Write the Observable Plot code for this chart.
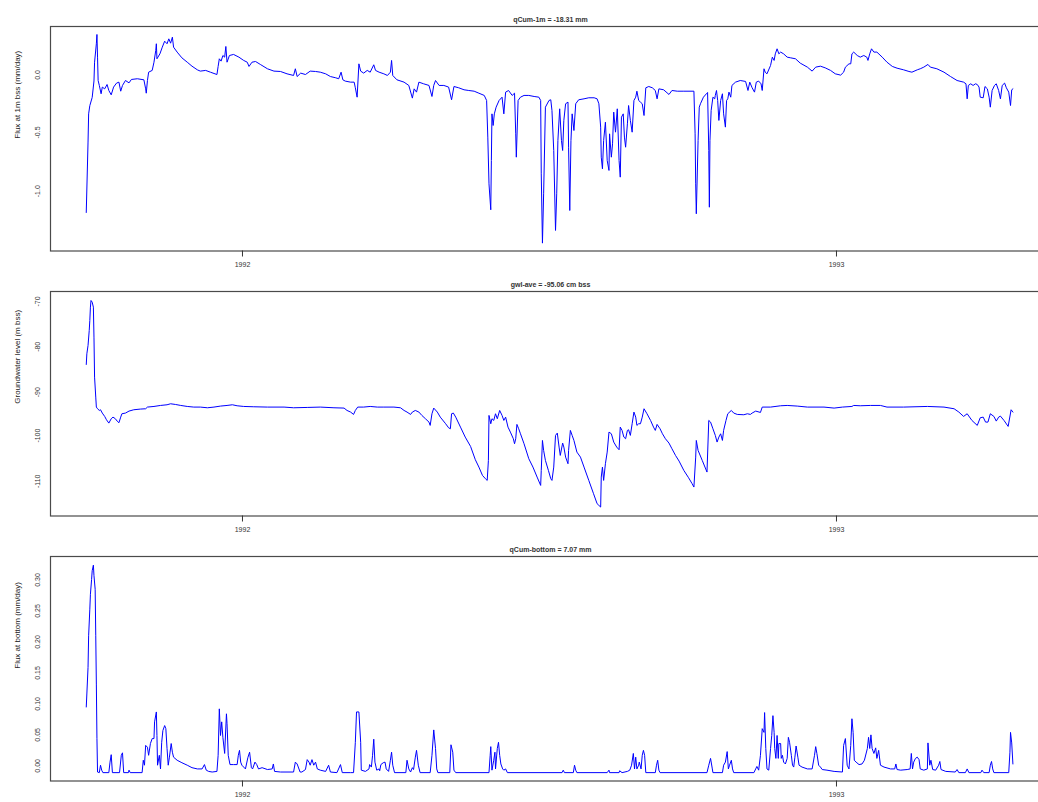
<!DOCTYPE html>
<html><head><meta charset="utf-8">
<script src="https://cdn.jsdelivr.net/npm/d3@7"></script>
<script src="https://cdn.jsdelivr.net/npm/@observablehq/plot@0.6"></script>
<style>
html,body{margin:0;padding:0;background:#fff;overflow:hidden;}
#chart{position:relative;width:1038px;height:802px;overflow:hidden;background:#fff;}
#chart svg{position:absolute;left:0;overflow:visible;}
</style></head><body><div id="chart"></div>
<script>
// ---- shared x axis (decimal years, as in R ts plot) ----
const yearTicks = [1992, 1993];
const xDomain = [1991.6768, 1993.3603];

// ---- panel 1: flux at 1 m ----
const fluxTopTitle = "qCum-1m = -18.31 mm";
const fluxTopLabel = "Flux at 1m bss (mm/day)";
const fluxTopTicks = [-1.0, -0.5, 0.0];
const fluxTopTime = [
1991.737,1991.738,1991.740,1991.741,1991.743,1991.747,1991.750,1991.751,1991.754,1991.755,
1991.756,1991.757,1991.759,1991.762,1991.764,1991.768,1991.772,1991.775,1991.779,1991.783,
1991.788,1991.792,1991.795,1991.798,1991.803,1991.809,1991.813,1991.823,1991.834,1991.837,
1991.838,1991.840,1991.842,1991.848,1991.851,1991.854,1991.855,1991.856,1991.861,1991.865,
1991.869,1991.873,1991.876,1991.879,1991.882,1991.884,1991.890,1991.898,1991.907,1991.915,
1991.924,1991.929,1991.938,1991.946,1991.957,1991.959,1991.961,1991.964,1991.967,1991.970,
1991.972,1991.974,1991.978,1991.985,1991.994,1992.002,1992.008,1992.011,1992.016,1992.022,
1992.030,1992.042,1992.053,1992.064,1992.075,1992.086,1992.089,1992.092,1992.098,1992.106,
1992.114,1992.123,1992.131,1992.140,1992.148,1992.157,1992.162,1992.166,1992.169,1992.173,
1992.182,1992.188,1992.190,1992.193,1992.196,1992.199,1992.204,1992.210,1992.215,1992.221,
1992.224,1992.230,1992.238,1992.244,1992.249,1992.251,1992.253,1992.260,1992.272,1992.280,
1992.286,1992.289,1992.293,1992.297,1992.305,1992.314,1992.319,1992.322,1992.325,1992.331,
1992.339,1992.347,1992.352,1992.356,1992.364,1992.373,1992.381,1992.390,1992.398,1992.407,
1992.411,1992.413,1992.415,1992.418,1992.419,1992.420,1992.422,1992.424,1992.427,1992.432,
1992.437,1992.440,1992.443,1992.448,1992.454,1992.458,1992.460,1992.461,1992.464,1992.468,
1992.474,1992.482,1992.491,1992.499,1992.502,1992.503,1992.505,1992.507,1992.510,1992.516,
1992.519,1992.521,1992.524,1992.527,1992.529,1992.531,1992.534,1992.537,1992.539,1992.541,
1992.544,1992.548,1992.549,1992.551,1992.553,1992.555,1992.558,1992.561,1992.566,1992.575,
1992.583,1992.592,1992.597,1992.600,1992.603,1992.604,1992.606,1992.608,1992.611,1992.614,
1992.617,1992.618,1992.621,1992.623,1992.625,1992.628,1992.631,1992.634,1992.636,1992.638,
1992.641,1992.643,1992.645,1992.648,1992.650,1992.653,1992.656,1992.659,1992.662,1992.664,
1992.667,1992.670,1992.673,1992.676,1992.679,1992.684,1992.690,1992.695,1992.698,1992.701,
1992.709,1992.718,1992.723,1992.732,1992.743,1992.760,1992.762,1992.763,1992.764,1992.767,
1992.769,1992.771,1992.776,1992.781,1992.783,1992.785,1992.786,1992.787,1992.789,1992.792,
1992.795,1992.796,1992.798,1992.800,1992.802,1992.805,1992.808,1992.810,1992.813,1992.815,
1992.817,1992.819,1992.822,1992.824,1992.830,1992.838,1992.847,1992.851,1992.854,1992.858,
1992.862,1992.865,1992.869,1992.873,1992.875,1992.878,1992.880,1992.883,1992.889,1992.892,
1992.895,1992.897,1992.900,1992.903,1992.906,1992.911,1992.917,1992.923,1992.931,1992.939,
1992.951,1992.959,1992.965,1992.973,1992.981,1992.990,1992.998,1993.007,1993.012,1993.015,
1993.021,1993.024,1993.026,1993.029,1993.035,1993.040,1993.046,1993.051,1993.053,1993.056,
1993.059,1993.063,1993.068,1993.077,1993.085,1993.094,1993.102,1993.113,1993.122,1993.127,
1993.136,1993.141,1993.147,1993.154,1993.158,1993.169,1993.181,1993.192,1993.203,1993.214,
1993.218,1993.220,1993.222,1993.226,1993.230,1993.234,1993.237,1993.240,1993.242,1993.247,
1993.250,1993.254,1993.257,1993.259,1993.262,1993.266,1993.269,1993.273,1993.276,1993.279,
1993.283,1993.286,1993.290,1993.293,1993.295,1993.297];
const fluxTopValue = [
-1.13,-0.93,-0.53,-0.29,-0.22,-0.15,-0.01,0.15,0.307,0.386,
0.193,-0.006,-0.048,-0.119,-0.062,-0.077,-0.040,-0.091,-0.128,-0.062,
-0.028,-0.020,-0.097,-0.048,-0.006,-0.026,0.003,0.009,0.0,-0.077,
-0.114,-0.006,0.065,0.080,0.150,0.250,0.307,0.179,0.221,0.278,
0.329,0.307,0.349,0.312,0.363,0.278,0.236,0.187,0.150,0.116,
0.085,0.074,0.080,0.065,0.045,0.114,0.179,0.159,0.207,0.193,
0.284,0.150,0.207,0.216,0.193,0.165,0.150,0.114,0.150,0.156,
0.131,0.094,0.074,0.071,0.051,0.037,0.094,0.028,0.057,0.045,
0.074,0.071,0.065,0.051,0.028,0.017,0.009,0.065,0.0,-0.011,
-0.020,-0.020,-0.068,-0.148,0.136,0.074,0.057,0.080,0.065,0.128,
0.080,0.065,0.051,0.037,0.065,0.165,0.037,0.0,-0.020,-0.048,
-0.156,-0.077,-0.105,-0.020,-0.034,-0.048,-0.142,-0.048,-0.006,-0.048,
-0.048,-0.062,-0.170,-0.057,-0.068,-0.085,-0.091,-0.097,-0.114,-0.133,
-0.176,-0.488,-0.886,-1.107,-0.687,-0.290,-0.389,-0.290,-0.233,-0.176,
-0.148,-0.290,-0.105,-0.091,-0.133,-0.114,-0.460,-0.659,-0.176,-0.148,
-0.133,-0.133,-0.142,-0.148,-0.176,-0.801,-1.391,-0.971,-0.233,-0.176,
-0.170,-0.261,-0.602,-1.283,-0.971,-0.517,-0.247,-0.517,-0.602,-0.346,
-0.204,-0.190,-0.574,-1.113,-0.517,-0.290,-0.432,-0.204,-0.170,-0.162,
-0.153,-0.153,-0.162,-0.204,-0.403,-0.659,-0.758,-0.517,-0.361,-0.687,
-0.772,-0.460,-0.659,-0.545,-0.275,-0.446,-0.247,-0.687,-0.829,-0.318,
-0.290,-0.488,-0.574,-0.375,-0.219,-0.346,-0.446,-0.176,-0.148,-0.097,
-0.176,-0.190,-0.204,-0.304,-0.068,-0.057,-0.068,-0.091,-0.162,-0.077,
-0.085,-0.125,-0.091,-0.097,-0.097,-0.097,-0.460,-0.886,-1.141,-0.517,
-0.233,-0.204,-0.148,-0.119,-0.108,-0.602,-1.085,-0.517,-0.261,-0.148,
-0.162,-0.133,-0.091,-0.176,-0.346,-0.176,-0.119,-0.290,-0.403,-0.176,
-0.162,-0.105,-0.148,-0.048,-0.020,-0.006,-0.014,-0.091,-0.020,-0.068,
-0.105,-0.020,-0.011,-0.034,-0.091,0.094,0.065,0.051,0.122,0.193,
0.165,0.221,0.264,0.221,0.236,0.221,0.193,0.187,0.179,0.142,
0.108,0.074,0.108,0.116,0.102,0.080,0.051,0.040,0.065,0.108,
0.136,0.136,0.221,0.236,0.207,0.193,0.207,0.193,0.165,0.221,
0.264,0.236,0.236,0.193,0.150,0.114,0.099,0.085,0.071,0.065,
0.085,0.094,0.108,0.131,0.108,0.094,0.065,0.028,-0.006,-0.020,
-0.034,-0.162,-0.048,-0.034,-0.048,-0.034,-0.040,-0.062,-0.148,-0.153,
-0.057,-0.077,-0.148,-0.233,-0.091,-0.048,-0.034,-0.091,-0.162,-0.048,
-0.028,-0.068,-0.105,-0.219,-0.085,-0.077];

// ---- panel 2: groundwater level ----
const gwlTitle = "gwl-ave = -95.06 cm bss";
const gwlLabel = "Groundwater level (m bss)";
const gwlTicks = [-110, -100, -90, -80, -70];
const gwlTime = [
1991.737,1991.738,1991.740,1991.742,1991.743,1991.744,1991.745,1991.747,1991.749,1991.750,
1991.751,1991.753,1991.754,1991.756,1991.759,1991.761,1991.764,1991.768,1991.771,1991.775,
1991.779,1991.782,1991.786,1991.789,1991.792,1991.795,1991.797,1991.803,1991.809,1991.817,
1991.828,1991.837,1991.840,1991.851,1991.862,1991.873,1991.879,1991.887,1991.896,1991.907,
1991.918,1991.929,1991.941,1991.952,1991.963,1991.974,1991.983,1991.991,1992.002,1992.019,
1992.042,1992.070,1992.086,1992.109,1992.131,1992.154,1992.171,1992.176,1992.182,1992.187,
1992.190,1992.194,1992.204,1992.215,1992.227,1992.238,1992.255,1992.266,1992.272,1992.277,
1992.283,1992.286,1992.291,1992.297,1992.302,1992.308,1992.314,1992.316,1992.319,1992.322,
1992.328,1992.333,1992.342,1992.347,1992.350,1992.352,1992.355,1992.359,1992.367,1992.375,
1992.384,1992.392,1992.398,1992.404,1992.409,1992.412,1992.414,1992.415,1992.418,1992.420,
1992.423,1992.426,1992.429,1992.433,1992.437,1992.440,1992.443,1992.447,1992.451,1992.456,
1992.458,1992.460,1992.462,1992.465,1992.468,1992.474,1992.482,1992.489,1992.496,1992.502,
1992.503,1992.505,1992.507,1992.510,1992.515,1992.519,1992.521,1992.524,1992.527,1992.530,
1992.533,1992.535,1992.539,1992.541,1992.544,1992.548,1992.549,1992.552,1992.555,1992.558,
1992.563,1992.569,1992.575,1992.583,1992.591,1992.597,1992.600,1992.603,1992.604,1992.606,
1992.608,1992.611,1992.614,1992.617,1992.621,1992.625,1992.630,1992.634,1992.636,1992.639,
1992.642,1992.645,1992.648,1992.650,1992.653,1992.656,1992.659,1992.662,1992.664,1992.667,
1992.670,1992.673,1992.676,1992.681,1992.687,1992.692,1992.695,1992.698,1992.703,1992.707,
1992.712,1992.718,1992.723,1992.729,1992.735,1992.743,1992.751,1992.757,1992.760,1992.763,
1992.764,1992.767,1992.774,1992.782,1992.785,1992.788,1992.792,1992.796,1992.799,1992.802,
1992.805,1992.808,1992.810,1992.814,1992.817,1992.823,1992.827,1992.833,1992.844,1992.850,
1992.855,1992.858,1992.864,1992.872,1992.875,1992.889,1992.906,1992.917,1992.934,1992.951,
1992.979,1992.996,1993.010,1993.026,1993.029,1993.040,1993.057,1993.074,1993.085,1993.113,
1993.153,1993.181,1993.198,1993.206,1993.214,1993.220,1993.228,1993.237,1993.242,1993.247,
1993.251,1993.255,1993.259,1993.265,1993.269,1993.273,1993.276,1993.282,1993.289,1993.294,
1993.297];
const gwlValue = [
-82.78,-80.43,-78.59,-75.29,-73.08,-70.15,-68.68,-69.05,-70.15,-76.75,
-85.57,-89.97,-92.17,-92.54,-92.91,-92.76,-93.49,-94.23,-94.96,-95.70,
-94.74,-94.38,-94.74,-95.26,-95.62,-94.38,-93.64,-93.49,-93.05,-92.76,
-92.61,-92.54,-92.17,-92.03,-91.81,-91.66,-91.44,-91.59,-91.81,-92.03,
-92.17,-92.17,-92.32,-92.17,-91.95,-91.81,-91.66,-91.88,-92.03,-92.10,
-92.17,-92.17,-92.32,-92.25,-92.17,-92.32,-92.39,-92.91,-93.27,-93.79,
-92.91,-92.17,-92.17,-92.03,-92.17,-92.17,-92.17,-92.32,-92.91,-93.27,
-93.79,-93.27,-92.91,-93.27,-94.01,-94.74,-95.48,-96.21,-93.64,-92.39,
-93.27,-94.38,-95.84,-96.73,-96.95,-93.64,-93.49,-94.38,-96.58,-98.78,
-100.84,-103.77,-105.39,-107.22,-107.96,-108.33,-103.92,-94.01,-95.84,-94.74,
-95.11,-93.64,-94.74,-92.91,-94.01,-95.11,-94.38,-96.58,-97.68,-99.15,
-100.25,-99.15,-95.99,-96.95,-98.05,-100.25,-103.55,-105.39,-107.59,-109.43,
-106.12,-99.52,-101.72,-103.92,-106.12,-107.96,-108.33,-105.39,-98.41,-97.90,
-100.98,-102.82,-100.10,-100.98,-103.19,-104.65,-101.72,-97.31,-98.41,-99.52,
-102.09,-103.19,-105.39,-108.33,-111.26,-113.46,-113.83,-114.20,-107.59,-105.39,
-108.33,-104.65,-102.09,-97.68,-98.05,-99.88,-100.98,-101.57,-96.58,-97.31,
-98.78,-99.15,-97.31,-97.17,-98.41,-95.84,-93.27,-94.38,-96.21,-95.84,
-95.84,-94.38,-92.54,-93.64,-95.11,-96.58,-97.31,-95.99,-96.95,-98.05,
-99.15,-100.10,-101.35,-102.82,-104.07,-106.12,-107.74,-109.06,-109.79,-103.19,
-99.52,-101.72,-103.92,-106.49,-95.11,-95.48,-96.95,-98.41,-99.88,-98.78,
-98.05,-99.52,-97.31,-95.11,-93.64,-92.91,-93.49,-93.79,-93.86,-93.64,
-93.79,-93.49,-93.05,-93.35,-92.17,-92.17,-91.88,-91.81,-91.95,-92.17,
-92.17,-92.39,-92.17,-92.03,-91.81,-91.88,-91.81,-91.81,-92.17,-92.17,
-92.03,-92.17,-92.54,-93.27,-94.23,-93.64,-95.11,-96.21,-94.52,-94.38,
-95.48,-95.48,-93.64,-94.23,-95.26,-94.38,-94.16,-95.11,-96.43,-92.76,
-93.27];

// ---- panel 3: flux at bottom ----
const fluxBottomTitle = "qCum-bottom = 7.07 mm";
const fluxBottomLabel = "Flux at bottom (mm/day)";
const fluxBottomTicks = [0.00, 0.05, 0.10, 0.15, 0.20, 0.25, 0.30];
const fluxBottomTime = [
1991.737,1991.738,1991.740,1991.741,1991.743,1991.744,1991.746,1991.747,1991.749,1991.750,
1991.752,1991.753,1991.754,1991.755,1991.756,1991.759,1991.761,1991.763,1991.765,1991.775,
1991.777,1991.779,1991.781,1991.793,1991.796,1991.798,1991.800,1991.808,1991.809,1991.811,
1991.831,1991.833,1991.835,1991.837,1991.840,1991.842,1991.845,1991.848,1991.851,1991.852,
1991.855,1991.856,1991.857,1991.860,1991.862,1991.864,1991.866,1991.869,1991.871,1991.873,
1991.875,1991.877,1991.880,1991.882,1991.884,1991.890,1991.898,1991.907,1991.915,1991.924,
1991.932,1991.936,1991.939,1991.943,1991.949,1991.957,1991.959,1991.961,1991.963,1991.965,
1991.967,1991.970,1991.973,1991.974,1991.976,1991.979,1991.985,1991.991,1991.993,1991.995,
1991.997,1991.999,1992.002,1992.005,1992.009,1992.012,1992.015,1992.017,1992.021,1992.024,
1992.027,1992.033,1992.042,1992.050,1992.052,1992.054,1992.064,1992.086,1992.089,1992.092,
1992.097,1992.100,1992.106,1992.109,1992.112,1992.114,1992.117,1992.120,1992.123,1992.126,
1992.131,1992.140,1992.145,1992.148,1992.159,1992.165,1992.168,1992.182,1992.187,1992.190,
1992.192,1992.196,1992.199,1992.200,1992.207,1992.213,1992.214,1992.217,1992.219,1992.221,
1992.223,1992.226,1992.230,1992.231,1992.233,1992.237,1992.240,1992.242,1992.246,1992.249,
1992.251,1992.253,1992.256,1992.275,1992.277,1992.280,1992.283,1992.286,1992.288,1992.291,
1992.293,1992.296,1992.299,1992.316,1992.319,1992.322,1992.325,1992.327,1992.329,1992.349,
1992.351,1992.354,1992.356,1992.359,1992.415,1992.417,1992.418,1992.420,1992.423,1992.425,
1992.426,1992.429,1992.431,1992.433,1992.435,1992.438,1992.440,1992.443,1992.446,1992.538,
1992.540,1992.542,1992.557,1992.559,1992.561,1992.563,1992.614,1992.617,1992.618,1992.634,
1992.635,1992.639,1992.648,1992.652,1992.655,1992.658,1992.660,1992.662,1992.664,1992.667,
1992.668,1992.671,1992.673,1992.675,1992.677,1992.679,1992.695,1992.697,1992.699,1992.701,
1992.703,1992.782,1992.785,1992.788,1992.791,1992.792,1992.808,1992.810,1992.813,1992.816,
1992.818,1992.820,1992.823,1992.825,1992.827,1992.861,1992.864,1992.866,1992.869,1992.872,
1992.875,1992.878,1992.879,1992.881,1992.883,1992.886,1992.889,1992.891,1992.893,1992.895,
1992.896,1992.898,1992.900,1992.902,1992.903,1992.906,1992.907,1992.909,1992.911,1992.914,
1992.917,1992.919,1992.921,1992.924,1992.926,1992.928,1992.930,1992.932,1992.935,1992.937,
1992.942,1992.951,1992.959,1992.963,1992.965,1992.967,1992.970,1992.973,1992.976,1992.984,
1992.996,1993.010,1993.012,1993.015,1993.018,1993.021,1993.024,1993.026,1993.028,1993.030,
1993.033,1993.038,1993.043,1993.047,1993.052,1993.054,1993.056,1993.058,1993.060,1993.063,
1993.066,1993.068,1993.071,1993.074,1993.080,1993.091,1993.098,1993.100,1993.102,1993.108,
1993.119,1993.124,1993.126,1993.128,1993.130,1993.133,1993.136,1993.139,1993.141,1993.147,
1993.153,1993.154,1993.157,1993.159,1993.162,1993.167,1993.172,1993.174,1993.176,1993.184,
1993.200,1993.203,1993.206,1993.217,1993.220,1993.223,1993.243,1993.245,1993.248,1993.257,
1993.259,1993.261,1993.263,1993.265,1993.290,1993.292,1993.293,1993.295,1993.297];
const fluxBottomValue = [
0.106,0.127,0.170,0.221,0.264,0.288,0.312,0.326,0.335,0.318,
0.296,0.221,0.143,0.055,0.001,0,0.012,0.004,0,0,
0.017,0.029,0,0,0.028,0.032,0,0,0.004,0,
0,0.020,0.012,0.044,0.041,0.028,0.047,0.055,0.055,0.082,
0.098,0.060,0.012,0.028,0.006,0.049,0.068,0.076,0.071,0.039,
0.012,0.025,0.047,0.033,0.025,0.020,0.016,0.012,0.008,0.006,
0.006,0.013,0.004,0.002,0.001,0.002,0.028,0.103,0.060,0.082,
0.057,0.031,0.095,0.079,0.028,0.013,0.013,0.013,0.028,0.036,
0.017,0.012,0.009,0.006,0.024,0.033,0.008,0.006,0.017,0.013,
0.006,0.008,0.005,0.006,0.014,0.002,0.001,0.001,0.017,0.014,
0.001,0.001,0.005,0.021,0.017,0.012,0.021,0.012,0.017,0.006,
0.004,0.002,0.012,0.001,0,0.013,0,0,0,0.049,
0.098,0.098,0.049,0.004,0.002,0.006,0.013,0.009,0.028,0.054,
0.017,0.004,0.006,0.003,0.013,0.016,0.017,0.006,0.002,0.020,
0.033,0.012,0,0,0.020,0.006,0.001,0.008,0.005,0.025,
0.036,0.012,0,0,0.028,0.069,0.039,0.006,0,0,
0.045,0.033,0.004,0,0,0.028,0.042,0.004,0.020,0.033,
0.006,0.039,0.049,0.028,0.014,0.006,0.004,0.006,0,0,
0.004,0,0,0.012,0.004,0,0,0.004,0,0,
0.003,0,0.002,0.004,0.012,0.031,0.006,0.025,0.006,0.012,
0.017,0.006,0.028,0.036,0.028,0,0,0.012,0.020,0.004,
0,0,0.012,0.023,0.006,0,0,0.012,0.017,0.034,
0.006,0.012,0.020,0.006,0,0,0.006,0.010,0.004,0.028,
0.071,0.065,0.097,0.039,0.006,0.004,0.039,0.060,0.092,0.065,
0.039,0.023,0.060,0.023,0.047,0.047,0.023,0.028,0.017,0.014,
0.023,0.057,0.049,0.028,0.012,0.009,0.025,0.043,0.025,0.012,
0.009,0.006,0.006,0.028,0.042,0.031,0.012,0.009,0.005,0.004,
0.002,0.001,0.044,0.055,0.012,0.006,0.044,0.087,0.065,0.020,
0.017,0.013,0.014,0.020,0.039,0.057,0.039,0.061,0.039,0.031,
0.040,0.023,0.036,0.012,0.009,0.006,0.006,0.014,0.005,0.004,
0.005,0.006,0.031,0.006,0.017,0.023,0.025,0.021,0.006,0.004,
0.006,0.048,0.012,0.020,0.005,0.004,0.012,0.018,0.005,0.002,
0.001,0.005,0,0,0.006,0,0,0.004,0,0,
0.012,0.018,0.006,0,0,0.033,0.065,0.048,0.014];

const FONT = "'Liberation Sans', Arial, Helvetica, sans-serif";

function panel({time, value, title, label, ticks, fmt, domain, top}) {
  const data = time.map((t, i) => ({t, v: value[i]}));
  const svg = Plot.plot({
    width: 1060, height: 272,
    marginLeft: 50, marginRight: 10, marginTop: 26, marginBottom: 21.5,
    style: `max-width:none;overflow:visible;background:transparent;font-family:${FONT};color:#333;`,
    x: {type: "linear", domain: xDomain},
    y: {type: "linear", domain, axis: null},
    marks: [
      Plot.line(data, {x: "t", y: "v", stroke: "#0000ff", strokeWidth: 1}),
      Plot.frame({stroke: "#4a4a4a", strokeWidth: 1.2}),
      Plot.axisX({ticks: yearTicks, tickFormat: d => String(d), tickSize: 6, tickPadding: 5,
                  fontSize: 7, label: null, color: "#333"}),
      Plot.text(ticks, {y: d => d, text: fmt, frameAnchor: "left", dx: -13, rotate: -90,
                        fontSize: 7, fill: "#333"}),
      Plot.text([label], {text: d => d, frameAnchor: "left", dx: -33, rotate: -90,
                          fontSize: 8, fill: "#222"}),
      Plot.text([title], {text: d => d, frameAnchor: "top", dy: -9.5, fontSize: 7,
                          fontWeight: "bold", fill: "#333"})
    ]
  });
  svg.style.top = top + "px";
  document.getElementById("chart").append(svg);
}

panel({time: fluxTopTime, value: fluxTopValue, title: fluxTopTitle, label: fluxTopLabel,
       ticks: fluxTopTicks, fmt: d => d.toFixed(1), domain: [-1.458, 0.454], top: 0});
panel({time: gwlTime, value: gwlValue, title: gwlTitle, label: gwlLabel,
       ticks: gwlTicks, fmt: d => String(d), domain: [-116.17, -66.70], top: 265});
panel({time: fluxBottomTime, value: fluxBottomValue, title: fluxBottomTitle, label: fluxBottomLabel,
       ticks: fluxBottomTicks, fmt: d => d.toFixed(2), domain: [-0.0135, 0.349], top: 530});
</script></body></html>
